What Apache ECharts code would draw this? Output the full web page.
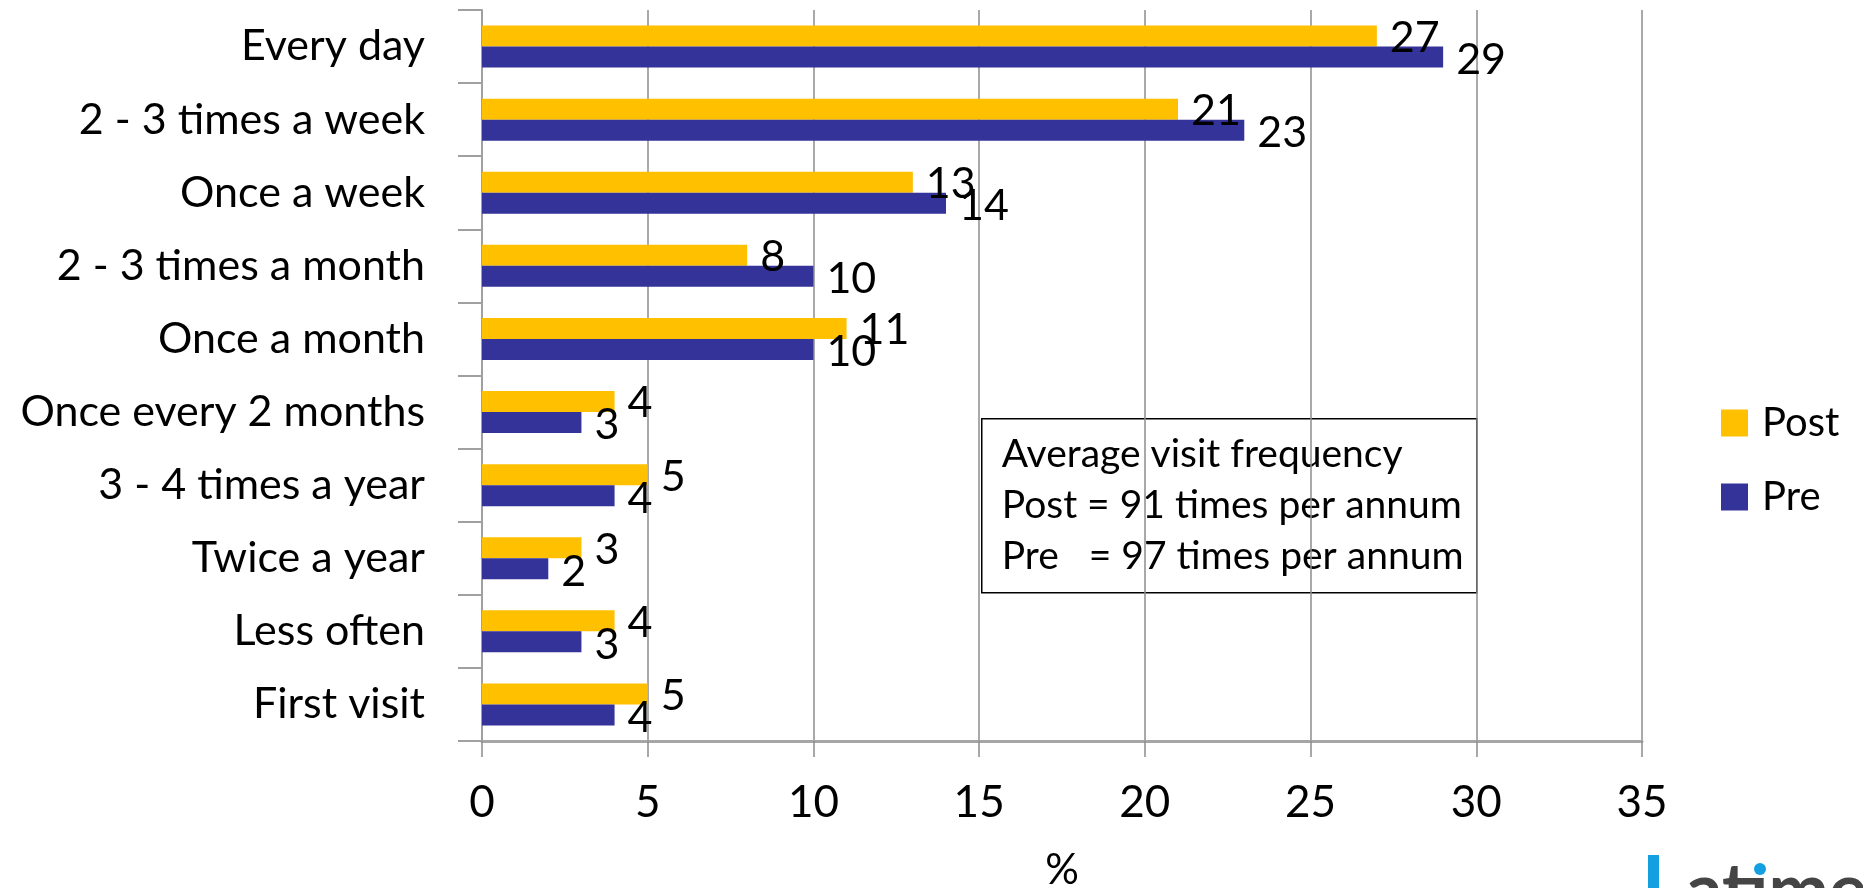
<!DOCTYPE html>
<html>
<head>
<meta charset="utf-8">
<style>
  html, body { margin: 0; padding: 0; background: #ffffff; }
  #chart { width: 1863px; height: 888px; }
</style>
<script src="https://cdn.jsdelivr.net/npm/echarts@6/dist/echarts.min.js"></script>
</head>
<body>
<div id="chart"></div>
<script>
// Visit frequency categories, top to bottom
const categories = [
  'Every day',
  '2 - 3 times a week',
  'Once a week',
  '2 - 3 times a month',
  'Once a month',
  'Once every 2 months',
  '3 - 4 times a year',
  'Twice a year',
  'Less often',
  'First visit'
];

// Share of visitors (%)
const postValues = [27, 21, 13, 8, 11, 4, 5, 3, 4, 5];
const preValues  = [29, 23, 14, 10, 10, 3, 4, 2, 3, 4];

const seriesNames = ['Post', 'Pre'];

const noteLines = [
  'Average visit frequency',
  'Post = 91 times per annum',
  'Pre   = 97 times per annum'
];

const FONT = 'Lato, "Open Sans", sans-serif';

const chart = echarts.init(document.getElementById('chart'), null, { renderer: 'canvas' });

function labelFor(offsetY) {
  return {
    show: true,
    position: 'right',
    distance: 13,
    offset: [0, offsetY],
    color: '#000000',
    fontFamily: FONT,
    fontSize: 43
  };
}

chart.setOption({
  animation: false,
  backgroundColor: '#ffffff',
  grid: {
    left: 482, right: 221, top: 10, bottom: 147,
    containLabel: false,
    outerBoundsMode: 'none'
  },
  legend: {
    orient: 'vertical',
    left: 1716,
    top: 398,
    itemWidth: 27,
    itemHeight: 27,
    itemGap: 34,
    icon: 'rect',
    data: seriesNames,
    textStyle: {
      fontFamily: FONT,
      fontSize: 40,
      lineHeight: 40,
      color: '#000000',
      padding: [0, 0, 0, 9]
    }
  },
  xAxis: {
    type: 'value',
    min: 0,
    max: 35,
    interval: 5,
    name: '%',
    nameLocation: 'middle',
    nameGap: 108,
    nameTextStyle: { fontFamily: FONT, fontSize: 42, color: '#000000' },
    axisLine: { show: true, lineStyle: { color: '#a6a6a6', width: 3 } },
    axisTick: { show: true, length: 16, lineStyle: { color: '#8c8c8c', width: 1.5 } },
    splitLine: { show: true, lineStyle: { color: '#8c8c8c', width: 1.5 } },
    axisLabel: { margin: 40, fontFamily: FONT, fontSize: 44, color: '#000000' }
  },
  yAxis: {
    type: 'category',
    data: categories,
    inverse: true,
    axisLine: { show: true, lineStyle: { color: '#a0a0a0', width: 2 } },
    axisTick: { show: true, length: 24, lineStyle: { color: '#a0a0a0', width: 2 } },
    axisLabel: { margin: 57, fontFamily: FONT, fontSize: 43, color: '#000000' }
  },
  series: [
    {
      name: seriesNames[0],
      type: 'bar',
      data: postValues,
      barWidth: 21,
      barGap: '0%',
      itemStyle: { color: '#ffc000' },
      label: labelFor(2)
    },
    {
      name: seriesNames[1],
      type: 'bar',
      data: preValues,
      barWidth: 21,
      barGap: '0%',
      itemStyle: { color: '#333399' },
      label: labelFor(3)
    }
  ],
  graphic: [
    {
      type: 'group',
      left: 981,
      top: 418,
      children: [
        {
          type: 'rect',
          shape: { x: 0, y: 0, width: 495, height: 174 },
          style: { fill: '#ffffff', stroke: '#000000', lineWidth: 1.5 }
        },
        {
          type: 'text',
          x: 20,
          y: 87,
          style: {
            text: noteLines.join('\n'),
            font: '39px ' + FONT,
            lineHeight: 51,
            fill: '#000000',
            verticalAlign: 'middle',
            align: 'left'
          }
        }
      ]
    },
    {
      type: 'rect',
      shape: { x: 1648, y: 855, width: 11, height: 40 },
      style: { fill: '#14a0e0' }
    },
    {
      type: 'text',
      x: 1686,
      y: 892,
      style: {
        text: 'at\u0131me',
        font: 'bold 72px ' + FONT,
        fill: '#454545',
        verticalAlign: 'middle',
        align: 'left'
      }
    },
    {
      type: 'circle',
      shape: { cx: 1760, cy: 869, r: 6 },
      style: { fill: '#14a0e0' }
    }
  ]
});
</script>
</body>
</html>
